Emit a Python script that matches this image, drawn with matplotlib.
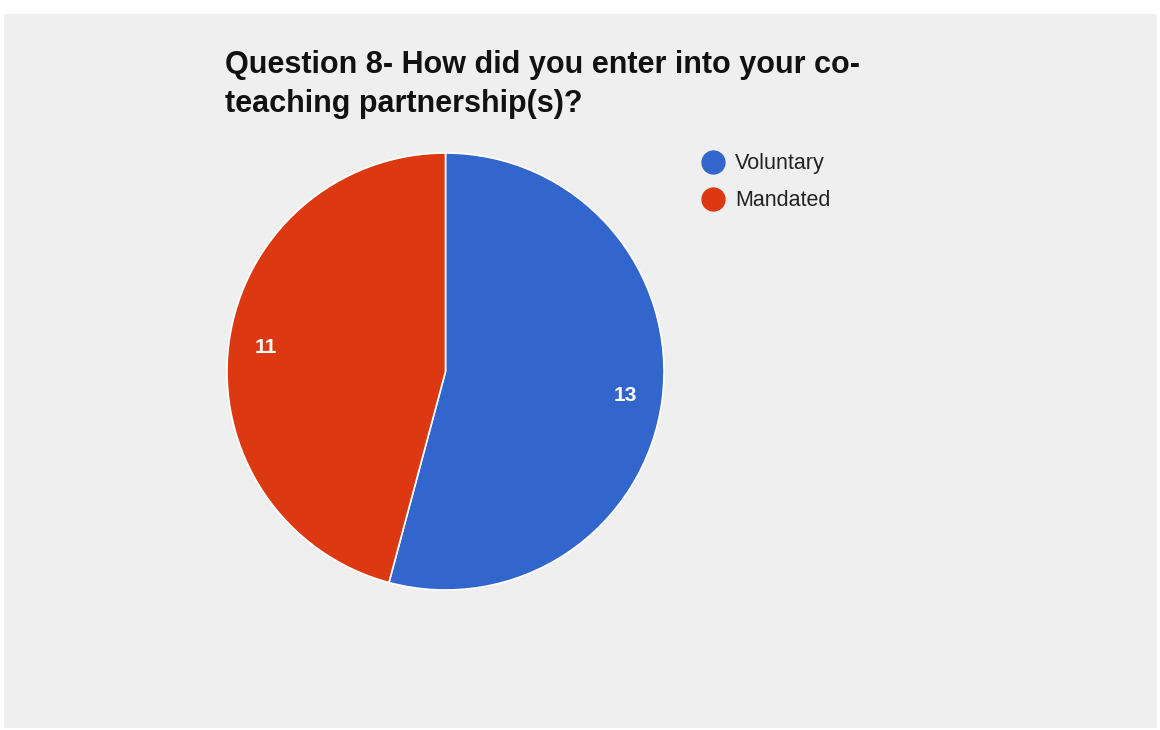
import matplotlib
matplotlib.use("Agg")
import matplotlib.pyplot as plt
from matplotlib.patches import Rectangle
from matplotlib.lines import Line2D

categories = ["Voluntary", "Mandated"]
values = [13, 11]
colors = ["#3366cc", "#dc3912"]
title_lines = ["Question 8- How did you enter into your co-", "teaching partnership(s)?"]

W, H = 1160, 730
fig = plt.figure(figsize=(W / 100, H / 100), dpi=100)
fig.patch.set_facecolor("white")

def fx(x):
    return x / W

def fy(y):
    return 1 - y / H

# gray chart area
fig.add_artist(Rectangle((fx(4), fy(728)), fx(1157) - fx(4), fy(14) - fy(728),
                         transform=fig.transFigure, facecolor="#efefef", edgecolor="none", zorder=0))

cx, cy, r = 445.5, 371.5, 218.5
ax = fig.add_axes([fx(cx - r), fy(cy + r), 2 * r / W, 2 * r / H])
ax.set_facecolor("none")
wedges, texts, autotexts = ax.pie(
    values, colors=colors, startangle=90, counterclock=False, radius=1,
    autopct=lambda p: f"{round(p * sum(values) / 100)}", pctdistance=0.83,
    wedgeprops=dict(edgecolor="white", linewidth=1.2),
    textprops=dict(color="white", fontsize=15, fontweight="bold", family="Liberation Sans"))
ax.set_xlim(-1, 1)
ax.set_ylim(-1, 1)
ax.set_aspect("auto")
ax.axis("off")

for i, line in enumerate(title_lines):
    fig.text(fx(225), fy(73 + i * 39), line, fontsize=22, fontweight="bold",
             family="Liberation Sans", color="#111111", va="baseline", ha="left")

for i, (cat, col) in enumerate(zip(categories, colors)):
    y = 161.5 + i * 37
    fig.lines.append(Line2D([fx(713)], [fy(y)], transform=fig.transFigure,
                            marker="o", markersize=16.5, color=col, linestyle="none"))
    fig.text(fx(735), fy(y), cat, fontsize=15.5, family="Liberation Sans", color="#222222",
             va="center_baseline", ha="left")

fig.savefig("out.png", dpi=100, facecolor="white")
